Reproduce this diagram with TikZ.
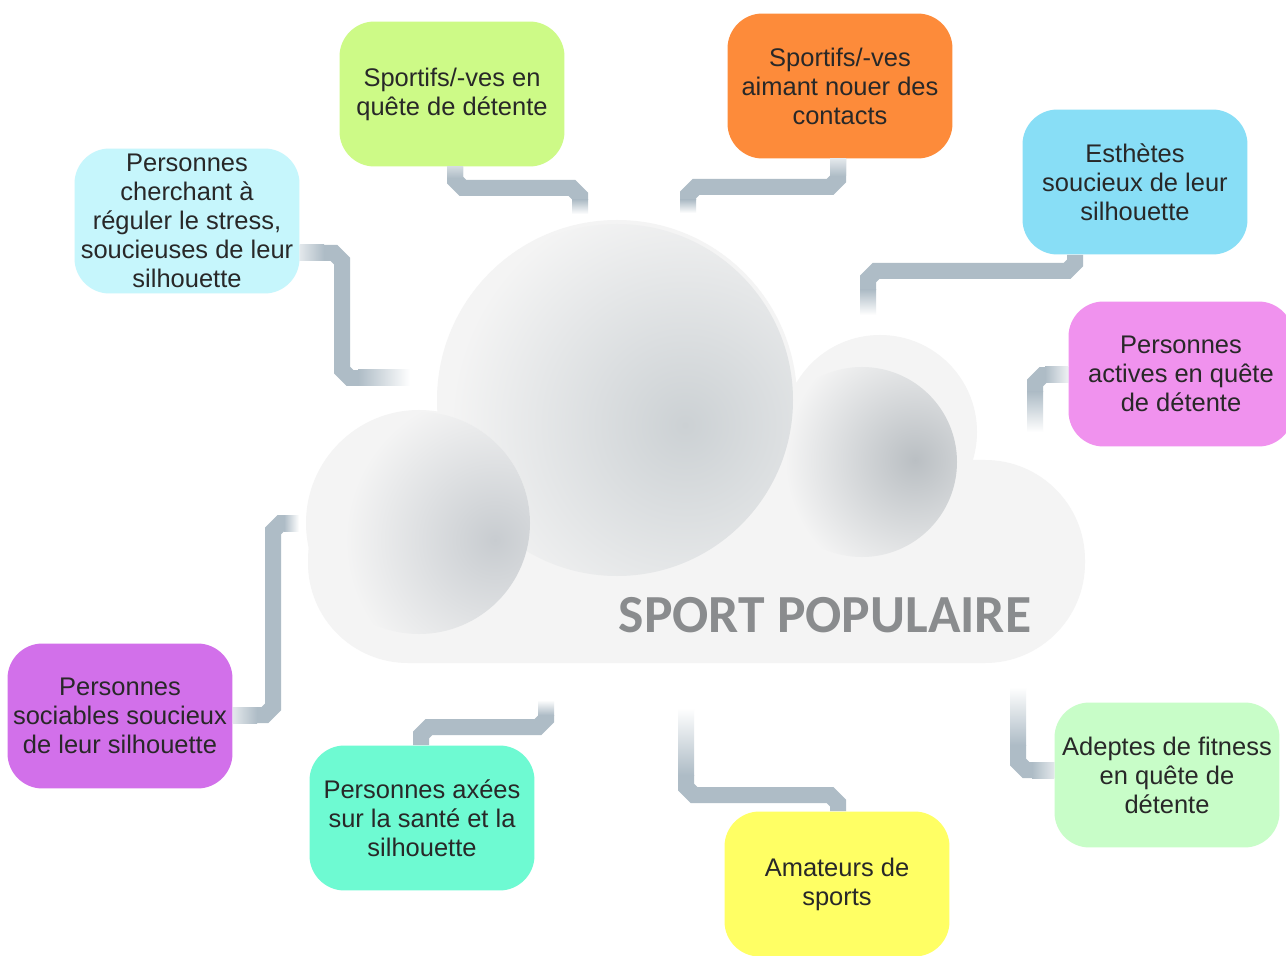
\documentclass[tikz,border=0pt]{standalone}
\usepackage{fontspec}
\setmainfont{Liberation Sans}
\newfontfamily\titlefont{Carlito}
\usepackage{xcolor}
\usepackage{tikz}
\usetikzlibrary{positioning,calc}

\definecolor{boxtext}{RGB}{40,40,40}
\definecolor{conn}{RGB}{174,188,198}
\definecolor{cloudbg}{RGB}{244,244,244}
\definecolor{sphbig}{RGB}{204,209,212}
\definecolor{sphright}{RGB}{186,191,195}
\definecolor{sphleft}{RGB}{200,204,208}
\definecolor{titlegray}{RGB}{138,140,142}
\definecolor{limegreen}{RGB}{205,250,135}
\definecolor{orangebox}{RGB}{253,139,58}
\definecolor{paleblue}{RGB}{198,246,252}
\definecolor{skyblue}{RGB}{136,222,246}
\definecolor{pinkbox}{RGB}{240,146,238}
\definecolor{purplebox}{RGB}{210,112,234}
\definecolor{tealbox}{RGB}{110,250,210}
\definecolor{yellowbox}{RGB}{255,255,100}
\definecolor{mintbox}{RGB}{200,253,200}

\begin{document}
\begin{tikzpicture}[x=0.02cm, y=-0.02cm,
    group/.style={rounded corners=0.7cm, minimum width=4.5cm, minimum height=2.9cm,
        inner sep=0pt, align=center, text=boxtext, font=\fontsize{14.5}{16.5}\selectfont},
    link/.style={draw=conn, line width=0.32cm}]
    \useasboundingbox (0,0) rectangle (1286,956);
    \fill[white] (0,0) rectangle (1286,956);

    % cloud
    \fill[cloudbg] (419,523) circle (113) (617,400) circle (180) (880,432) circle (97);
    \fill[cloudbg, rounded corners=2cm] (308,460) rectangle (1085,663);
    \begin{scope}
        \clip (862,462) circle (95);
        \shade[inner color=sphright, outer color=cloudbg] (915,460) circle (130);
    \end{scope}
    \fill[cloudbg] (617,400) circle (176);
    \begin{scope}
        \clip (617,400) circle (176);
        \shade[inner color=sphbig, outer color=cloudbg] (685,425) circle (235);
    \end{scope}
    \fill[cloudbg] (419,523) circle (111);
    \begin{scope}
        \clip (419,523) circle (111);
        \shade[inner color=sphleft, outer color=cloudbg] (495,540) circle (150);
    \end{scope}
    \node[font=\titlefont\bfseries\fontsize{30.5}{36}\selectfont, text=titlegray] (title) at (825,615) {SPORT POPULAIRE};

    % groups
    \node[group, fill=limegreen] (detente) at (452,94) {Sportifs/-ves en\\quête de détente};
    \node[group, fill=orangebox] (contacts) at (840,86) {Sportifs/-ves\\aimant nouer des\\contacts};
    \node[group, fill=paleblue] (stress) at (187,221) {Personnes\\cherchant à\\réguler le stress,\\soucieuses de leur\\silhouette};
    \node[group, fill=skyblue] (esthetes) at (1135,182) {Esthètes\\soucieux de leur\\silhouette};
    \node[group, fill=pinkbox] (actives) at (1181,374) {Personnes\\actives en quête\\de détente};
    \node[group, fill=purplebox] (sociables) at (120,716) {Personnes\\sociables soucieux\\de leur silhouette};
    \node[group, fill=tealbox] (sante) at (422,818) {Personnes axées\\sur la santé et la\\silhouette};
    \node[group, fill=yellowbox] (amateurs) at (837,884) {Amateurs de\\sports};
    \node[group, fill=mintbox] (fitness) at (1167,775) {Adeptes de fitness\\en quête de\\détente};

    % links
    \draw[link] (detente.south -| 455,0) -- (455,180) -- (463,188) -- (572,188) -- (580,196) -- (580,200) coordinate (f1);
    \shade[top color=conn, bottom color=white] ($(f1)+(-8,0)$) rectangle ($(f1)+(8,14)$);
    \shade[top color=conn!55, bottom color=conn] ($(detente.south -| 447,0)$) rectangle (463,178);

    \draw[link] (contacts.south -| 838,0) -- (838,179) -- (830,187) -- (696,187) -- (688,195) -- (688,200) coordinate (f2);
    \shade[top color=conn, bottom color=white] ($(f2)+(-8,0)$) rectangle ($(f2)+(8,13)$);
    \shade[top color=conn!35, bottom color=conn] ($(contacts.south -| 830,0)$) rectangle (846,176);

    \draw[link] (stress.east |- 0,253) -- (334,253) -- (342,261) -- (342,370) -- (350,378) -- (358,378) coordinate (f3);
    \shade[left color=conn, right color=white] ($(f3)+(0,-8)$) rectangle ($(f3)+(52,8)$);
    \shade[left color=conn!35, right color=conn] ($(stress.east |- 0,245)$) rectangle (324,261);

    \draw[link] (esthetes.south -| 1075,0) -- (1075,263) -- (1067,271) -- (876,271) -- (868,279) -- (868,290) coordinate (f4);
    \shade[top color=conn, bottom color=white] ($(f4)+(-8,0)$) rectangle ($(f4)+(8,25)$);

    \draw[link] (actives.west |- 0,375) -- (1043,375) -- (1035,383) -- (1035,392) coordinate (f5);
    \shade[top color=conn, bottom color=white] ($(f5)+(-8,0)$) rectangle ($(f5)+(8,40)$);
    \shade[left color=conn, right color=conn!20] (1045,367) rectangle ($(actives.west |- 0,383)$);

    \draw[link] (sociables.east |- 0,715) -- (265,715) -- (273,707) -- (273,531) -- (281,523) -- (284,523) coordinate (f6);
    \shade[left color=conn, right color=white] ($(f6)+(0,-8)$) rectangle ($(f6)+(15,8)$);
    \shade[left color=conn!35, right color=conn] ($(sociables.east |- 0,707)$) rectangle (257,723);

    \draw[link] (sante.north -| 421,0) -- (421,735) -- (429,727) -- (538,727) -- (546,719) -- (546,715) coordinate (f7);
    \shade[bottom color=conn, top color=white] ($(f7)+(-8,0)$) rectangle ($(f7)+(8,-15)$);

    \draw[link] (amateurs.north -| 838,0) -- (838,803) -- (830,795) -- (694,795) -- (686,787) -- (686,775) coordinate (f8);
    \shade[bottom color=conn, top color=white] ($(f8)+(-8,0)$) rectangle ($(f8)+(8,-67)$);

    \draw[link] (fitness.west |- 0,770) -- (1026,770) -- (1018,762) -- (1018,745) coordinate (f9);
    \shade[bottom color=conn, top color=white] ($(f9)+(-8,0)$) rectangle ($(f9)+(8,-58)$);
    \shade[left color=conn, right color=conn!35] (1032,762) rectangle ($(fitness.west |- 0,778)$);
\end{tikzpicture}
\end{document}
